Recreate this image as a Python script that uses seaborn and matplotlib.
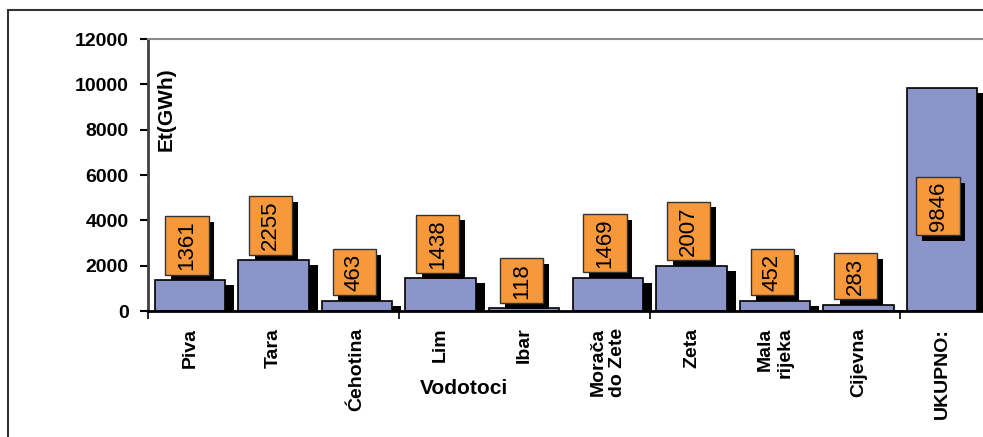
import matplotlib
matplotlib.use("Agg")
import matplotlib.pyplot as plt
import matplotlib.patheffects as pe
import matplotlib.transforms as mtransforms
from matplotlib.path import Path
import seaborn as sns
import pandas as pd

# data
vodotoci = ["Piva", "Tara", "Ćehotina", "Lim", "Ibar", "Morača\ndo Zete",
            "Zeta", "Mala\nrijeka", "Cijevna", "UKUPNO:"]
energija = [1361, 2255, 463, 1438, 118, 1469, 2007, 452, 283, 9846]
y_ticks = [0, 2000, 4000, 6000, 8000, 10000, 12000]

df = pd.DataFrame({"vodotok": vodotoci, "et": energija})

bar_color = "#8C95C9"
box_color = "#F7993B"

sns.set_style("white")
plt.rcParams["font.family"] = ["Liberation Sans", "DejaVu Sans"]
plt.rcParams["text.color"] = "black"
plt.rcParams["xtick.color"] = "black"
plt.rcParams["ytick.color"] = "black"
plt.rcParams["axes.labelcolor"] = "black"

fig = plt.figure(figsize=(9.83, 4.37), dpi=100)
ax = fig.add_axes([148 / 983, 126 / 437, 836 / 983, 272 / 437])

# shadow bars first, shifted right/down in pixels
sns.barplot(data=df, x="vodotok", y="et", color="black", saturation=1,
            width=0.84, linewidth=0, ax=ax)
shift = mtransforms.ScaledTranslation(9 / 100, -5 / 100, fig.dpi_scale_trans)
for p in ax.patches:
    p.set_transform(ax.transData + shift)

sns.barplot(data=df, x="vodotok", y="et", color=bar_color, saturation=1,
            width=0.84, edgecolor="black", linewidth=1.2, ax=ax)

ax.set_xlim(-0.5, len(vodotoci) - 0.5)
ax.set_ylim(0, 12000)
ax.set_yticks(y_ticks)
ax.set_yticklabels([str(t) for t in y_ticks], fontsize=14, fontweight="bold")
ax.tick_params(axis="y", direction="out", length=6, width=1.5, pad=8, left=True)

# tick marks at every third category boundary, labels at category centers
ax.set_xticks([-0.5, 2.5, 5.5, 8.5])
ax.set_xticklabels([])
ax.set_xticks(range(len(vodotoci)), minor=True)
ax.set_xticklabels(vodotoci, minor=True, rotation=90, fontsize=14,
                   fontweight="bold", va="top", ha="center", multialignment="right")
ax.tick_params(axis="x", which="major", direction="out", length=6, width=1.2, bottom=True)
ax.tick_params(axis="x", which="minor", length=0, pad=12)

ax.set_xlabel("")
ax.set_ylabel("")

for side in ["left", "bottom", "top"]:
    ax.spines[side].set_visible(True)
ax.spines["right"].set_visible(False)
ax.spines["left"].set_color("#404040")
ax.spines["left"].set_linewidth(2)
ax.spines["bottom"].set_color("black")
ax.spines["bottom"].set_linewidth(2)
ax.spines["top"].set_color("#8a8a8a")
ax.spines["top"].set_linewidth(1.5)


def label_box(x0, y0, width, height, mutation_size):
    px, py = 0.2 * mutation_size, 0.5 * mutation_size
    return Path([(x0 - px, y0 - py), (x0 + width + px, y0 - py),
                 (x0 + width + px, y0 + height + py), (x0 - px, y0 + height + py),
                 (x0 - px, y0 - py)], closed=True)


for i, v in enumerate(energija):
    if i == len(energija) - 1:
        xy, off, va = (i, v / 2), (-3, -5), "center"
    else:
        xy, off, va = (i, v), (-2, 7), "bottom"
    t = ax.annotate(str(v), xy=xy, xytext=off, textcoords="offset points",
                    rotation=90, ha="center", va=va, fontsize=16, color="black",
                    bbox=dict(boxstyle=label_box, facecolor=box_color,
                              edgecolor="#333333", linewidth=1), zorder=5)
    t.get_bbox_patch().set_path_effects([
        pe.SimplePatchShadow(offset=(4, -4), shadow_rgbFace="black", alpha=1),
        pe.Normal()])

fig.text(166 / 983, 1 - 109 / 437, "Et(GWh)", rotation=90, ha="center",
         va="center", fontsize=15, fontweight="bold", color="black")
fig.text(464 / 983, 1 - 388 / 437, "Vodotoci", ha="center", va="center",
         fontsize=15, fontweight="bold", color="black")

# outer frame of the chart
fig.add_artist(plt.Rectangle((8 / 983, -0.1), 1.2, 1.1 - 10 / 437,
                             transform=fig.transFigure, fill=False,
                             edgecolor="#333333", linewidth=1.5))

fig.savefig("out.png", dpi=100)
